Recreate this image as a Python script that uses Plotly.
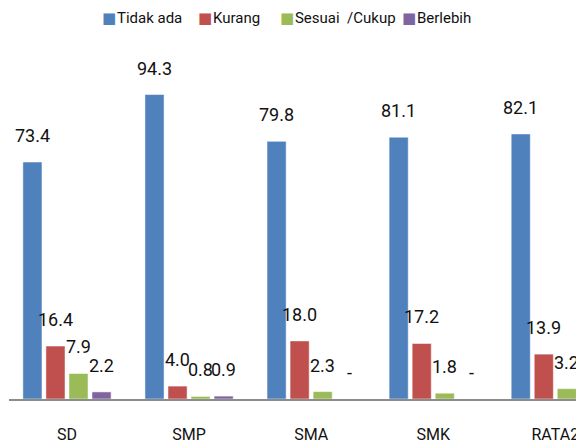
import plotly.graph_objects as go

# Data
categories = ['SD', 'SMP', 'SMA', 'SMK', 'RATA2']
tidak_ada = [73.4, 94.3, 79.8, 81.1, 82.1]
kurang = [16.4, 4.0, 18.0, 17.2, 13.9]
sesuai = [7.9, 0.8, 2.3, 1.8, 3.2]
berlebih = [2.2, 0.9, 0, 0, 0.8]

series_names = ['Tidak ada', 'Kurang', 'Sesuai  /Cukup', 'Berlebih']
colors = ['#4F81BD', '#C0504D', '#9BBB59', '#8064A2']

FONT = 'Roboto, Liberation Sans, sans-serif'
BARGAP = 0.245
all_series = [tidak_ada, kurang, sesuai, berlebih]

fig = go.Figure()
for vals, name, color in zip(all_series, series_names, colors):
    fig.add_trace(go.Bar(
        x=categories, y=vals, name=name, showlegend=False,
        marker=dict(color=color, line=dict(color='rgba(255,255,255,0.5)', width=1)),
    ))

# data labels sit well above the bars, so they are annotations
slot = (1 - BARGAP) / len(all_series)
for j, vals in enumerate(all_series):
    off = (j - (len(all_series) - 1) / 2) * slot
    for i, v in enumerate(vals):
        fig.add_annotation(
            x=i + off + (0 if v else 0.03), y=v, xref='x', yref='y',
            text=f'{v:.1f}' if v else '-',
            showarrow=False, yanchor='bottom', yshift=14,
            font=dict(family=FONT, size=18, color='#111'),
        )

# compact legend like the original (square right next to the text)
legend_left = [0.158, 0.325, 0.468, 0.680]
for name, color, lx in zip(series_names, colors, legend_left):
    fig.add_annotation(
        x=lx, y=1.123, xref='paper', yref='paper', xanchor='left', yanchor='middle',
        text=f"<span style='color:{color};font-family:DejaVu Sans'>■</span>"
             f"<span style='font-size:3px'> </span>{name.replace(' ', '&nbsp;')}",
        showarrow=False, font=dict(family=FONT, size=15, color='#111'),
    )

# page body has an 8px margin, so the figure is 8px smaller each way
fig.update_layout(
    width=576, height=436,
    margin=dict(l=1, r=0, t=52, b=42),
    paper_bgcolor='white', plot_bgcolor='white',
    barmode='group', bargap=BARGAP, bargroupgap=0.17,
    font=dict(family=FONT, size=17, color='#111'),
    xaxis=dict(range=[-0.475, 4.235], showline=True, linecolor='#8c8c8c', linewidth=2,
               ticks='', ticklabelstandoff=20, tickfont=dict(size=16), fixedrange=True),
    yaxis=dict(range=[0, 105.0], visible=False, showgrid=False, fixedrange=True),
)

fig.write_html('out.html')
